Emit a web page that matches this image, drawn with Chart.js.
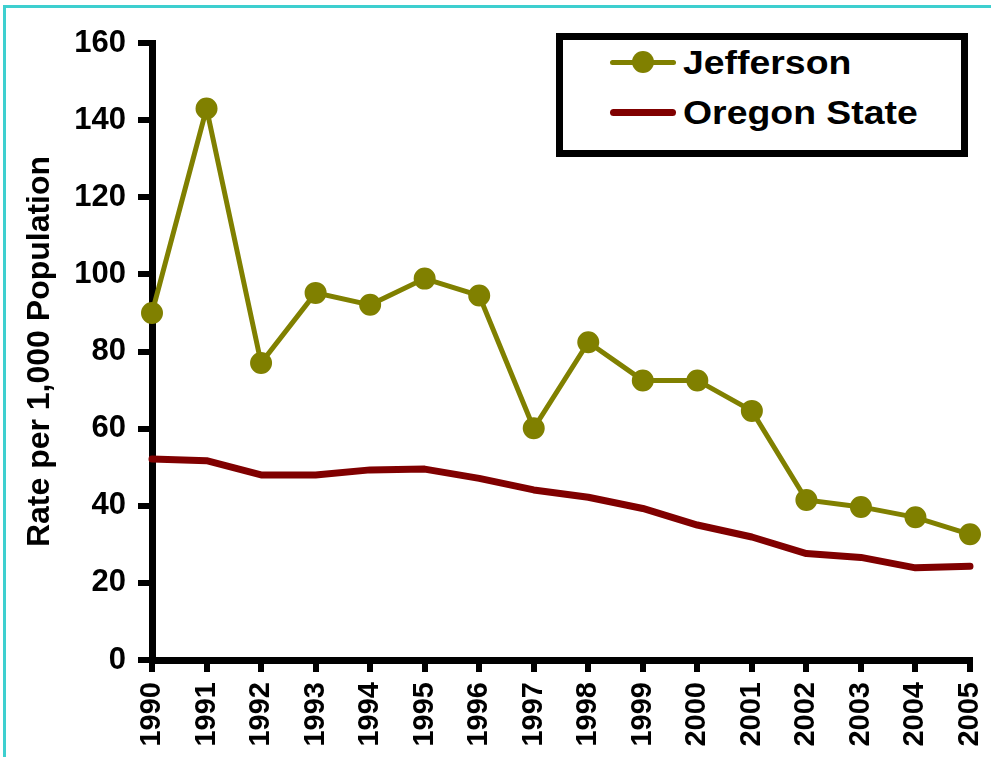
<!DOCTYPE html>
<html>
<head>
<meta charset="utf-8">
<script src="https://cdn.jsdelivr.net/npm/chart.js@4.4.1/dist/chart.umd.min.js"></script>
<style>
  html, body { margin: 0; padding: 0; background: #fff; }
  body { width: 991px; height: 757px; position: relative; overflow: hidden; }
  #frame { position: absolute; left: 3px; top: 5px; width: 1000px; height: 800px;
           border-top: 3px solid #3ecfcf; border-left: 3px solid #3ecfcf; box-sizing: border-box; }
  #wrap { position: absolute; left: 0; top: 0; width: 991px; height: 757px; }
  #legend { position: absolute; left: 556px; top: 33px; width: 412px; height: 124px;
            border: 7px solid #000; box-sizing: border-box; background: #fff;
            font-family: "Liberation Sans", Arial, sans-serif; font-weight: bold; }
  .row { position: absolute; left: 0; height: 40px; width: 100%; }
  .sample { position: absolute; left: 47px; top: 50%; width: 66px; border-radius: 4px; }
  .dot { position: absolute; left: 22px; width: 22px; height: 22px; border-radius: 50%; top: -9px; }
  .lbl { position: absolute; left: 120px; top: 50%; transform-origin: 0 50%; transform: translateY(-50%) scaleX(1.1); font-size: 34px; white-space: nowrap; color: #000; }
</style>
</head>
<body>
<div id="frame"></div>
<div id="wrap"><canvas id="c" width="991" height="757"></canvas></div>
<div id="legend"></div>
<script>
const years = ['1990','1991','1992','1993','1994','1995','1996','1997','1998','1999','2000','2001','2002','2003','2004','2005'];
const jefferson = [90.0, 143.0, 77.0, 95.2, 92.1, 98.9, 94.5, 60.1, 82.4, 72.5, 72.5, 64.6, 41.5, 39.7, 37.0, 32.6];
const oregonState = [52.1, 51.7, 48.0, 48.0, 49.3, 49.5, 47.1, 44.1, 42.2, 39.3, 35.0, 31.9, 27.6, 26.6, 23.9, 24.3];
const yTicks = [0, 20, 40, 60, 80, 100, 120, 140, 160];
const seriesNames = ['Jefferson', 'Oregon State'];
const yTitle = 'Rate per 1,000 Population';

const FONT = '"Liberation Sans", Arial, sans-serif';

const htmlLegend = {
  id: 'htmlLegend',
  afterUpdate(chart) {
    const box = document.getElementById('legend');
    box.innerHTML = '';
    chart.data.datasets.forEach((ds, i) => {
      const row = document.createElement('div');
      row.className = 'row';
      row.style.top = (i === 0 ? 2 : 52) + 'px';
      const s = document.createElement('div');
      s.className = 'sample';
      const lw = ds.borderWidth;
      s.style.height = lw + 'px';
      s.style.marginTop = (-lw / 2) + 'px';
      s.style.background = ds.borderColor;
      if (ds.pointRadius > 0) {
        const d = document.createElement('div');
        d.className = 'dot';
        d.style.background = ds.pointBackgroundColor;
        d.style.top = (lw / 2 - 11) + 'px';
        s.appendChild(d);
      }
      const t = document.createElement('div');
      t.className = 'lbl';
      t.textContent = ds.label;
      row.appendChild(s);
      row.appendChild(t);
      box.appendChild(row);
    });
  }
};

new Chart(document.getElementById('c'), {
  type: 'line',
  data: {
    labels: years,
    datasets: [
      {
        label: seriesNames[0],
        data: jefferson,
        borderColor: '#808000',
        backgroundColor: '#808000',
        pointBackgroundColor: '#808000',
        pointBorderColor: '#808000',
        borderWidth: 5,
        pointRadius: 10,
        pointBorderWidth: 2,
        pointHoverRadius: 10,
        tension: 0,
        clip: false,
        order: 0
      },
      {
        label: seriesNames[1],
        data: oregonState,
        borderColor: '#800000',
        backgroundColor: '#800000',
        borderWidth: 7,
        pointRadius: 0,
        borderCapStyle: 'round',
        borderJoinStyle: 'round',
        tension: 0,
        clip: false,
        order: 1
      }
    ]
  },
  options: {
    responsive: false,
    animation: false,
    devicePixelRatio: 1,
    layout: { padding: { top: 43, right: 0, left: 0, bottom: 0 } },
    plugins: {
      legend: { display: false },
      tooltip: { enabled: false }
    },
    scales: {
      x: {
        type: 'category',
        offset: false,
        afterFit(scale) { scale.height = 97; scale.paddingLeft = 0; scale.paddingRight = 21; },
        border: { display: true, color: '#000', width: 7 },
        grid: { display: true, drawOnChartArea: false, drawTicks: true, tickLength: 12, color: '#000', lineWidth: 6 },
        ticks: { color: '#000', font: { family: FONT, size: 29, weight: 'bold' }, minRotation: 90, maxRotation: 90, padding: 10, autoSkip: false }
      },
      y: {
        min: yTicks[0],
        max: yTicks[yTicks.length - 1],
        afterFit(scale) { scale.width = 152; },
        afterBuildTicks(scale) { scale.ticks = yTicks.map(v => ({ value: v })); },
        border: { display: true, color: '#000', width: 7 },
        grid: { display: true, drawOnChartArea: false, drawTicks: true, tickLength: 14, color: '#000', lineWidth: 6 },
        ticks: { color: '#000', font: { family: FONT, size: 31, weight: 'bold' }, padding: 12 },
        title: { display: true, text: yTitle, color: '#000', font: { family: FONT, size: 32, weight: 'bold' }, padding: { top: 21, bottom: 0 } }
      }
    }
  },
  plugins: [htmlLegend]
});
</script>
</body>
</html>
